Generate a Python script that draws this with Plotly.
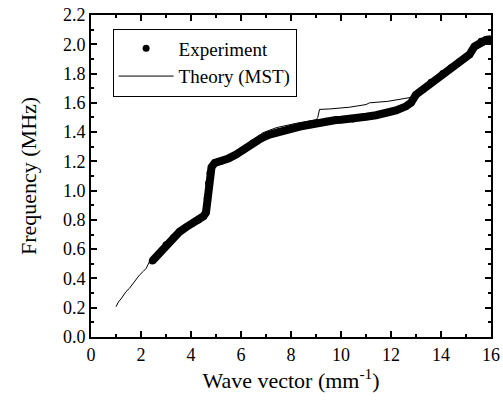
import plotly.graph_objects as go

exp_k = [2.45, 2.7, 3.0, 3.3, 3.55, 3.8, 4.07, 4.3, 4.5, 4.6, 4.65, 4.70, 4.76, 4.82, 4.95,
         5.2, 5.5, 5.8, 6.1, 6.47, 6.8, 7.14, 7.5, 7.94, 8.35, 8.74, 9.1, 9.41, 9.8, 10.0,
         10.47, 11.0, 11.4, 11.8, 12.2, 12.6, 12.8, 13.0, 13.27, 13.6, 14.07, 14.4, 14.74,
         15.14, 15.34, 15.6, 15.8, 16.0]
exp_f = [0.52, 0.565, 0.63, 0.68, 0.72, 0.75, 0.778, 0.80, 0.825, 0.85, 0.95, 1.05, 1.12, 1.16, 1.19,
         1.20, 1.22, 1.246, 1.28, 1.326, 1.357, 1.383, 1.403, 1.42, 1.437, 1.45, 1.465, 1.474, 1.482, 1.485,
         1.49, 1.505, 1.515, 1.53, 1.548, 1.576, 1.60, 1.656, 1.69, 1.74, 1.80, 1.84, 1.88,
         1.93, 1.985, 2.02, 2.03, 2.035]

th_k = [1.0, 1.1, 1.2, 1.27, 1.4, 1.54, 1.7, 1.8, 1.94, 2.1, 2.21, 2.34, 2.6, 3.0, 3.5, 4.0, 4.5,
        4.62, 4.68, 4.75, 4.85, 5.0, 5.5, 6.0, 6.5, 6.87, 7.41, 8.21, 9.01, 9.07, 9.14, 9.54,
        10.34, 11.0, 11.14, 11.87, 12.74, 12.9, 13.0, 13.3, 14.0, 14.7, 15.1, 15.4, 15.8, 16.0]
th_f = [0.207, 0.24, 0.26, 0.276, 0.31, 0.333, 0.37, 0.40, 0.424, 0.45, 0.47, 0.515, 0.56, 0.625,
        0.71, 0.77, 0.82, 0.84, 1.0, 1.12, 1.18, 1.20, 1.23, 1.285, 1.345, 1.395, 1.43, 1.46, 1.485,
        1.50, 1.555, 1.558, 1.57, 1.588, 1.60, 1.61, 1.634, 1.64, 1.66, 1.695, 1.79, 1.875, 1.925,
        1.965, 2.0, 2.03]

x_ticks = [0, 2, 4, 6, 8, 10, 12, 14, 16]
y_ticks = [0.0, 0.2, 0.4, 0.6, 0.8, 1.0, 1.2, 1.4, 1.6, 1.8, 2.0, 2.2]

serif = "Liberation Serif"

fig = go.Figure()
fig.add_trace(go.Scatter(x=exp_k, y=exp_f, mode="lines", showlegend=False,
                         line=dict(color="black", width=8)))
fig.add_trace(go.Scatter(x=exp_k, y=exp_f, mode="markers", name="Experiment",
                         marker=dict(color="black", size=7)))
fig.add_trace(go.Scatter(x=th_k, y=th_f, mode="lines", name="Theory (MST)",
                         line=dict(color="black", width=1)))

fig.update_layout(
    width=503, height=403,
    margin=dict(l=91, r=12, t=15, b=66),
    plot_bgcolor="white", paper_bgcolor="white",
    font=dict(family=serif, size=18, color="black"),
    xaxis=dict(
        range=[0, 16], tickvals=x_ticks, automargin="bottom",
        showline=True, linecolor="black", linewidth=2, mirror="ticks",
        ticks="inside", ticklen=6, tickwidth=1.5, tickcolor="black",
        showgrid=False, zeroline=False,
        tickfont=dict(family=serif, size=18, color="black"),
        minor=dict(dtick=1, ticks="inside", ticklen=3, tickcolor="black", tickwidth=1.5),
        title=dict(text="Wave vector (mm<sup>-1</sup>)", standoff=8,
                   font=dict(family=serif, size=22, color="black")),
    ),
    yaxis=dict(
        range=[0, 2.2], tickvals=y_ticks, tickformat=".1f", automargin="left",
        showline=True, linecolor="black", linewidth=2, mirror="ticks",
        ticks="inside", ticklen=6, tickwidth=1.5, tickcolor="black",
        showgrid=False, zeroline=False,
        tickfont=dict(family=serif, size=18, color="black"),
        minor=dict(dtick=0.1, ticks="inside", ticklen=3, tickcolor="black", tickwidth=1.5),
        title=dict(text="Frequency (MHz)", standoff=20,
                   font=dict(family=serif, size=22, color="black")),
    ),
    legend=dict(x=0.054, y=0.958, xanchor="left", yanchor="top", itemwidth=55,
                bordercolor="black", borderwidth=1, bgcolor="white",
                font=dict(family=serif, size=19, color="black")),
)

fig.write_html("out.html")
